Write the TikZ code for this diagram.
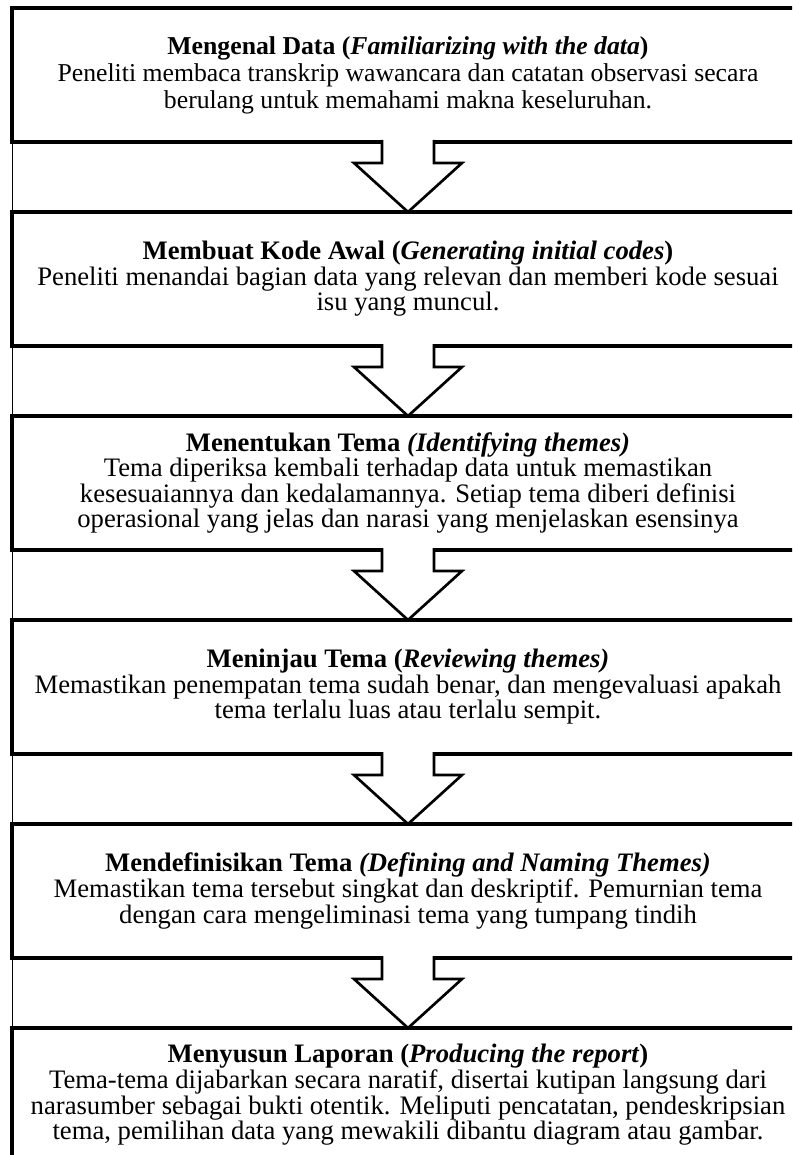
\documentclass[tikz,border=0pt]{standalone}
\usepackage{fontspec}
\setmainfont{Liberation Serif}
\usetikzlibrary{calc,positioning}

\begin{document}
\begin{tikzpicture}[x=0.75pt, y=-0.75pt,
    stage/.style={draw, line width=2.5pt, fill=white, outer sep=0pt, align=center,
        minimum width=594pt, minimum height=100.5pt, inner sep=0pt,
        font=\fontsize{20}{17.4}\selectfont},
    stagewide/.style={stage, font=\fontsize{19.3}{20.2}\selectfont},
    downarrow/.style={draw, fill=white, line width=2pt, line join=miter}]
\useasboundingbox (0,0) rectangle (792,1155);
\clip (0,0) rectangle (792,1155);

\node[stagewide] (s1) at (408,75) {\textbf{Mengenal Data (\textit{Familiarizing with the data})}\\
    Peneliti membaca transkrip wawancara dan catatan observasi secara\\
    berulang untuk memahami makna keseluruhan.};
\node[stage] (s2) at (408,279) {\textbf{Membuat Kode Awal (\textit{Generating initial codes})}\\
    Peneliti menandai bagian data yang relevan dan memberi kode sesuai\\
    isu yang muncul.};
\node[stage] (s3) at (408,483) {\textbf{Menentukan Tema \textit{(Identifying themes)}}\\
    Tema diperiksa kembali terhadap data untuk memastikan\\
    kesesuaiannya dan kedalamannya. Setiap tema diberi definisi\\
    operasional yang jelas dan narasi yang menjelaskan esensinya};
\node[stage] (s4) at (408,687) {\textbf{Meninjau Tema (\textit{Reviewing themes)}}\\
    Memastikan penempatan tema sudah benar, dan mengevaluasi apakah\\
    tema terlalu luas atau terlalu sempit.};
\node[stage] (s5) at (408,891) {\textbf{Mendefinisikan Tema \textit{(Defining and Naming Themes)}}\\
    Memastikan tema tersebut singkat dan deskriptif. Pemurnian tema\\
    dengan cara mengeliminasi tema yang tumpang tindih};
\node[stage] (s6) at (408,1095) {\textbf{Menyusun Laporan (\textit{Producing the report})}\\
    Tema-tema dijabarkan secara naratif, disertai kutipan langsung dari\\
    narasumber sebagai bukti otentik. Meliputi pencatatan, pendeskripsian\\
    tema, pemilihan data yang mewakili dibantu diagram atau gambar.};

% thin rule along the left side
\draw[line width=0.75pt] (s1.north west) -- (s6.south west);

\foreach \a/\b in {s1/s2, s2/s3, s3/s4, s4/s5, s5/s6}
    \path[downarrow] ($(\a.south)+(-26,-2)$) -- ($(\a.south)+(-26,21)$)
        -- ($(\a.south)+(-54,21)$) -- (\b.north) -- ($(\a.south)+(54,21)$)
        -- ($(\a.south)+(26,21)$) -- ($(\a.south)+(26,-2)$);

\end{tikzpicture}
\end{document}
